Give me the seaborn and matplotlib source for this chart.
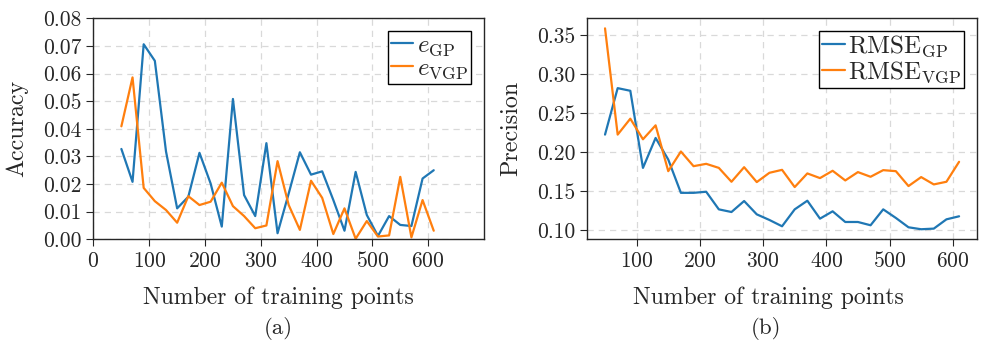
import numpy as np
import pandas as pd
import matplotlib
matplotlib.use("Agg")
import matplotlib.pyplot as plt
import seaborn as sns

# Training set sizes
n_train = list(range(50, 611, 20))

# (a) accuracy errors
e_gp = [0.0327, 0.0208, 0.0706, 0.0646, 0.0318, 0.0112, 0.0154, 0.0313, 0.0202, 0.0046,
        0.0508, 0.0160, 0.0084, 0.0348, 0.0022, 0.0166, 0.0315, 0.0234, 0.0246, 0.0142,
        0.0031, 0.0244, 0.0088, 0.0012, 0.0084, 0.0052, 0.0048, 0.0220, 0.0250]
e_vgp = [0.0409, 0.0586, 0.0186, 0.0138, 0.0106, 0.0060, 0.0156, 0.0124, 0.0136, 0.0205,
         0.0120, 0.0084, 0.0040, 0.0050, 0.0283, 0.0124, 0.0034, 0.0212, 0.0150, 0.0019,
         0.0112, 0.0002, 0.0066, 0.0010, 0.0014, 0.0226, 0.0007, 0.0142, 0.0031]

# (b) precision (RMSE)
rmse_gp = [0.2227, 0.2823, 0.2789, 0.1800, 0.2184, 0.1907, 0.1480, 0.1480, 0.1494, 0.1268,
           0.1234, 0.1375, 0.1204, 0.1132, 0.1051, 0.1268, 0.1379, 0.1149, 0.1243, 0.1106,
           0.1106, 0.1064, 0.1268, 0.1158, 0.1038, 0.1013, 0.1021, 0.1140, 0.1179]
rmse_vgp = [0.3590, 0.2227, 0.2431, 0.2167, 0.2346, 0.1758, 0.2010, 0.1822, 0.1852, 0.1800,
            0.1622, 0.1809, 0.1618, 0.1737, 0.1775, 0.1554, 0.1729, 0.1669, 0.1763, 0.1639,
            0.1746, 0.1686, 0.1771, 0.1758, 0.1567, 0.1682, 0.1588, 0.1622, 0.1878]

sns.set_style("ticks")
plt.rcParams.update({
    "font.family": ["cmr10"],
    "mathtext.fontset": "cm",
    "axes.formatter.use_mathtext": True,
    "font.size": 15,
    "axes.linewidth": 1.0,
    "xtick.direction": "out",
    "ytick.direction": "out",
})

blue, orange = "#1f77b4", "#ff7f0e"

fig = plt.figure(figsize=(9.81, 3.44), dpi=100)
ax1 = fig.add_axes([0.0953, 0.3044, 0.398, 0.6424])
ax2 = fig.add_axes([0.5987, 0.3044, 0.397, 0.6424])

sns.lineplot(x=n_train, y=e_gp, ax=ax1, color=blue, lw=1.6, label=r"$e_{\mathrm{GP}}$")
sns.lineplot(x=n_train, y=e_vgp, ax=ax1, color=orange, lw=1.6, label=r"$e_{\mathrm{VGP}}$")
sns.lineplot(x=n_train, y=rmse_gp, ax=ax2, color=blue, lw=1.6, label=r"RMSE$_{\mathrm{GP}}$")
sns.lineplot(x=n_train, y=rmse_vgp, ax=ax2, color=orange, lw=1.6, label=r"RMSE$_{\mathrm{VGP}}$")

ax1.set_xlim(0, 700)
ax1.set_ylim(0, 0.08)
ax1.set_xticks(range(0, 601, 100))
ax1.set_yticks(np.arange(0, 0.081, 0.01))
ax1.yaxis.set_major_formatter(matplotlib.ticker.FormatStrFormatter("%.2f"))
ax1.set_ylabel("Accuracy", fontsize=17.3, labelpad=11)

ax2.set_xticks(range(100, 601, 100))
ax2.set_yticks(np.arange(0.10, 0.351, 0.05))
ax2.yaxis.set_major_formatter(matplotlib.ticker.FormatStrFormatter("%.2f"))
ax2.set_ylabel("Precision", fontsize=17.3, labelpad=11)

panels = ((ax1, "(a)", 0.4725, 0.284), (ax2, "(b)", 0.464, 0.781))
for ax, tag, xl, tx in panels:
    ax.set_xlabel("Number of training points", fontsize=17.1)
    ax.xaxis.set_label_coords(xl, -0.212)
    ax.grid(True, ls=(0, (5, 4)), color="#d9d9d9", lw=0.9)
    ax.tick_params(labelsize=15.5, length=5)
    for s in ax.spines.values():
        s.set_visible(True)
    leg = ax.legend(loc="upper right", fontsize=18, frameon=True, fancybox=False,
                    edgecolor="black", framealpha=1, handlelength=0.9,
                    borderpad=0.12, labelspacing=0.0, handletextpad=0.15,
                    borderaxespad=0.5)
    leg.get_frame().set_linewidth(1.0)
    fig.text(tx, 0.046, tag, ha="center", va="center", fontsize=16.5)

fig.savefig("out.png", dpi=100)
